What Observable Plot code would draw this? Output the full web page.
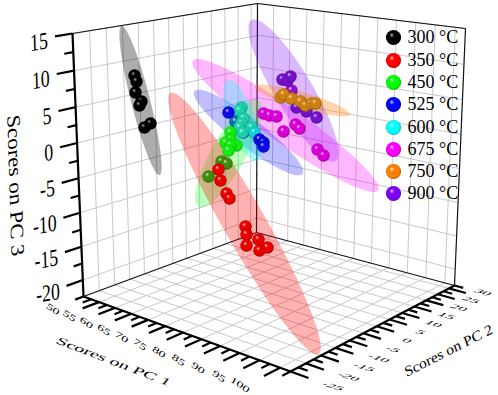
<!DOCTYPE html>
<html><head><meta charset="utf-8">
<script src="https://cdn.jsdelivr.net/npm/d3@7"></script>
<script src="https://cdn.jsdelivr.net/npm/@observablehq/plot@0.6"></script>
<style>html,body{margin:0;padding:0;background:#fff}svg{display:block}</style>
</head><body><div id="chart"></div>
<script>
// Axis labels
const pc1Labels = [50,55,60,65,70,75,80,85,90,95,100];
const pc2Labels = [-25,-20,-15,-10,-5,0,5,10,15,20,25,30];
const pc3Labels = [15,10,5,0,-5,-10,-15,-20];
const tempLabels = ["300 °C","350 °C","450 °C","525 °C","600 °C","675 °C","750 °C","900 °C"];
const tempColors = ["#000000","#ff0000","#00ff00","#0000ff","#00ffff","#ff00ff","#ff8000","#8000ff"];

// Sphere positions as read on the picture plane
const x300=[134,136,135,141,139,150,144], y300=[75,81,92,101,105,123,127];
const x350=[218,220,226,229,245,246,246,258,259,267], y350=[169,180,193,198,226,234,245,239,250,247];
const x450dim=[221,226,208], y450dim=[161,163,176];
const x450=[230,230,225,236,230,228], y450=[132,139,142,145,145,150];
const x525=[228,259,263,263], y525=[112,139,142,146];
const x525dim=[235,243], y525dim=[121,132];
const x600=[241,239,243,241,239,242,251], y600=[107,110,118,123,127,132,127];
const x600b=[254], y600b=[132];
const x675=[263,269,276,283,295,299,317,323], y675=[113,115,116,131,124,128,149,155];
const x750=[280,283,291,300,305,311,315], y750=[97,94,98,101,105,103,103];
const x900=[282,287,290,296,306,316], y900=[79,80,76,107,111,117];
const x900b=[291], y900b=[90];

// 95% ellipses on the picture plane: centre, semi-axes, tilt (degrees)
const ellColor=["#000000","#8000ff","#ff00ff","#0000ff","#ff8000","#00ff00","#00ffff","#ff0000"];
const ellCx=[140,293,285,248,302,228,242,244];
const ellCy=[100,90,125,132,100,153,120,223];
const ellA=[77,82,113,68,49.5,61,43,150];
const ellB=[9.5,19,18,14,8,17,13,21];
const ellTilt=[75.7,59.2,35,37.5,16.4,-60.7,70,60.4];
const ellOpacity=[.32,.28,.28,.25,.32,.26,.3,.3];

// Box frame corners on the picture plane
const left=[72,33], back=[257,3], right=[465,28];
const leftB=[83,296], backB=[256,232], rightB=[454,285], frontB=[290,371];
const pc1Dom=[45,102.5], pc2Dom=[-30,32.5], pc3Dom=[15,-22.5];

function quad([p0,p1,p2,p3]){
  const dx1=p1[0]-p2[0],dx2=p3[0]-p2[0],sx=p0[0]-p1[0]+p2[0]-p3[0];
  const dy1=p1[1]-p2[1],dy2=p3[1]-p2[1],sy=p0[1]-p1[1]+p2[1]-p3[1];
  const det=dx1*dy2-dx2*dy1, g=(sx*dy2-dx2*sy)/det, h=(dx1*sy-sx*dy1)/det;
  const a=p1[0]-p0[0]+g*p1[0], b=p3[0]-p0[0]+h*p3[0], d=p1[1]-p0[1]+g*p1[1], e=p3[1]-p0[1]+h*p3[1];
  return (u,v)=>{const w=g*u+h*v+1; return [(a*u+b*v+p0[0])/w,(d*u+e*v+p0[1])/w];};
}
const nu=(d,v)=>(v-d[0])/(d[1]-d[0]);
const qFloor=quad([leftB,frontB,rightB,backB]);
const qLeft=quad([left,back,backB,leftB]);
const qRight=quad([back,right,rightB,backB]);
const floorP=(a,b)=>qFloor(nu(pc1Dom,a),nu(pc2Dom,b));
const leftP=(b,c)=>qLeft(nu(pc2Dom,b),nu(pc3Dom,c));
const rightP=(a,c)=>qRight(nu(pc1Dom,a),nu(pc3Dom,c));
const seg=(A,B,extra={})=>({x1:A[0],y1:A[1],x2:B[0],y2:B[1],...extra});

const grid=[];
for(const c of pc3Labels){grid.push(seg(leftP(pc2Dom[0],c),leftP(pc2Dom[1],c)));grid.push(seg(rightP(pc1Dom[0],c),rightP(pc1Dom[1],c)));}
for(const b of pc2Labels){grid.push(seg(leftP(b,pc3Dom[0]),leftP(b,pc3Dom[1])));grid.push(seg(floorP(pc1Dom[0],b),floorP(pc1Dom[1],b)));}
for(const a of pc1Labels){grid.push(seg(rightP(a,pc3Dom[0]),rightP(a,pc3Dom[1])));grid.push(seg(floorP(a,pc2Dom[0]),floorP(a,pc2Dom[1])));}

const thin=[seg(left,back),seg(back,right),seg(right,rightB),seg(back,backB),seg(leftB,backB),seg(backB,rightB)];
const thick=[seg(left,leftB),seg(leftB,frontB),seg(frontB,rightB)];

const ticks=[];
for(let i=0;i<=22;i++){const a=47.5+i*2.5; if(a>102.5)break;
  const L=(a%5===0)?5:2.6; ticks.push(seg(floorP(a,pc2Dom[0]),floorP(a,pc2Dom[0]-L)));}
for(let i=0;i<=25;i++){const b=-30+i*2.5; if(b>32.5)break;
  const L=(b%5===0)?4.2:2.2; ticks.push(seg(floorP(pc1Dom[1],b),floorP(pc1Dom[1]+L,b)));}
for(let i=0;i<=15;i++){const c=15-i*2.5;
  const L=(c%5===0)?5:2.6; ticks.push(seg(leftP(pc2Dom[0],c),leftP(pc2Dom[0]-L,c)));}

const ellipsePts=(i)=>d3.range(73).map(k=>{const t=k/72*2*Math.PI,r=ellTilt[i]*Math.PI/180,
  ca=ellA[i]*Math.cos(t),cb=ellB[i]*Math.sin(t);
  return {x:ellCx[i]+ca*Math.cos(r)-cb*Math.sin(r),y:ellCy[i]+ca*Math.sin(r)+cb*Math.cos(r)};});

const sph=(xs,ys)=>xs.map((x,i)=>({x,y:ys[i]}));
const grads={k:"#000000",r:"#e80000",g:"#10ee10",gd:"#3f8c0c",b:"#0a0ae6",bd:"#0f6ea8",t:"#1cd2ac",c:"#10d0d8",m:"#d800d8",o:"#d08010",p:"#7410cc",pm:"#9410c4",
  l0:"#000000",l1:"#ff0000",l2:"#00ff00",l3:"#0000ff",l4:"#00ffff",l5:"#ff00ff",l6:"#ff8000",l7:"#8000ff"};
const url=k=>`url(#sp-${k})`;
const defs=()=>{const d=d3.create("svg:defs");
  for(const k in grads){const col=grads[k];
    const g=d.append("radialGradient").attr("id","sp-"+k).attr("cx",.5).attr("cy",.5).attr("r",.52).attr("fx",.36).attr("fy",.3);
    const hi=k==="k"||k==="l0"?"#a8a8a8":d3.interpolateRgb(col,"#fff")(.8);
    g.append("stop").attr("offset",0).attr("stop-color",hi);
    g.append("stop").attr("offset",.32).attr("stop-color",col);
    g.append("stop").attr("offset",.78).attr("stop-color",col);
    g.append("stop").attr("offset",1).attr("stop-color",d3.color(col).darker(1.1).formatHex());
  }
  return d.node();};

const spheres=[["pm",x900b,y900b],["p",x900,y900],["k",x300,y300],["gd",x450dim,y450dim],["m",x675,y675],["bd",x525dim,y525dim],["t",x600,y600],["c",x600b,y600b],["g",x450,y450],["b",x525,y525],["o",x750,y750],["r",x350,y350]];

const legendY=[37,60,82,104,127,149,171,193];
const legend=tempLabels.map((t,i)=>({t,x:393,tx:407,y:legendY[i],k:"l"+i}));

const pc1Text=pc1Labels.map((v,i)=>{const p=floorP(v,pc2Dom[0]),t=i/10;return {x:p[0]-46+6*t,y:p[1]+7+10*t,t:String(v)};});
const pc2Text=pc2Labels.map((v,i)=>{const p=floorP(pc1Dom[1],v),t=i/11;return {x:p[0]+27+7*t,y:p[1]+23-19*t,t:String(v)};});
const pc3Text=pc3Labels.map(v=>{const p=leftP(pc2Dom[0]-7,v);return {x:p[0],y:p[1],t:String(v)};});

const serif="Liberation Serif";
const common={fontFamily:serif,fill:"#000",text:"t",x:"x",y:"y"};
const chart=Plot.plot({
  width:498,height:395,margin:0,
  x:{domain:[0,498],range:[0,498],axis:null},
  y:{domain:[0,395],range:[0,395],axis:null},
  style:{background:"#fff",fontFamily:serif},
  marks:[
    defs,
    Plot.link(grid,{x1:"x1",y1:"y1",x2:"x2",y2:"y2",stroke:"#c9c9c9",strokeWidth:1}),
    Plot.link(thin,{x1:"x1",y1:"y1",x2:"x2",y2:"y2",stroke:"#111",strokeWidth:1.2}),
    ...ellColor.map((c,i)=>Plot.line(ellipsePts(i),{x:"x",y:"y",fill:c,fillOpacity:ellOpacity[i],stroke:"none"})),
    Plot.link(thick,{x1:"x1",y1:"y1",x2:"x2",y2:"y2",stroke:"#000",strokeWidth:2.2}),
    Plot.link(ticks,{x1:"x1",y1:"y1",x2:"x2",y2:"y2",stroke:"#000",strokeWidth:2.2}),
    ...spheres.map(([k,xs,ys])=>Plot.dot(sph(xs,ys),{x:"x",y:"y",r:6.2,fill:url(k),stroke:"none"})),
    Plot.text(pc3Text,{...common,fontSize:24,textAnchor:"end",dy:3,className:"lab3"}),
    Plot.text(pc1Text,{...common,fontSize:15,className:"lab1"}),
    Plot.text(pc2Text,{...common,fontSize:15,className:"lab2"}),
    Plot.text([{x:15,y:185,t:"Scores on PC 3"}],{...common,fontSize:23,className:"ttl3"}),
    Plot.text([{x:113,y:361,t:"Scores on PC 1"}],{...common,fontSize:16,className:"ttl1"}),
    Plot.text([{x:448,y:350,t:"Scores on PC 2"}],{...common,fontSize:16,className:"ttl2"}),
    ...legend.map(d=>Plot.dot([d],{x:"x",y:"y",r:7.6,fill:url(d.k),stroke:"none"})),
    Plot.text(legend,{fontFamily:serif,fill:"#000",text:"t",x:"tx",y:"y",fontSize:18,textAnchor:"start"})
  ]
});
const warp=(cls,m)=>d3.select(chart).selectAll(`g.${cls} text`).each(function(){
  this.setAttribute("transform",(this.getAttribute("transform")||"")+` matrix(${m.join(",")})`);});
warp("lab3",[.74,-.13,.03,1,0,0]);
warp("lab1",[.8,.55,-.3,.5,0,0]);
warp("lab2",[1.0,.3,-.5,.3,0,0]);
warp("ttl3",[.03,1,-.82,.14,0,0]);
warp("ttl1",[1.15,.44,-.45,.55,0,0]);
warp("ttl2",[.89,-.45,.3,.85,0,0]);
document.getElementById("chart").appendChild(chart);
</script></body></html>
